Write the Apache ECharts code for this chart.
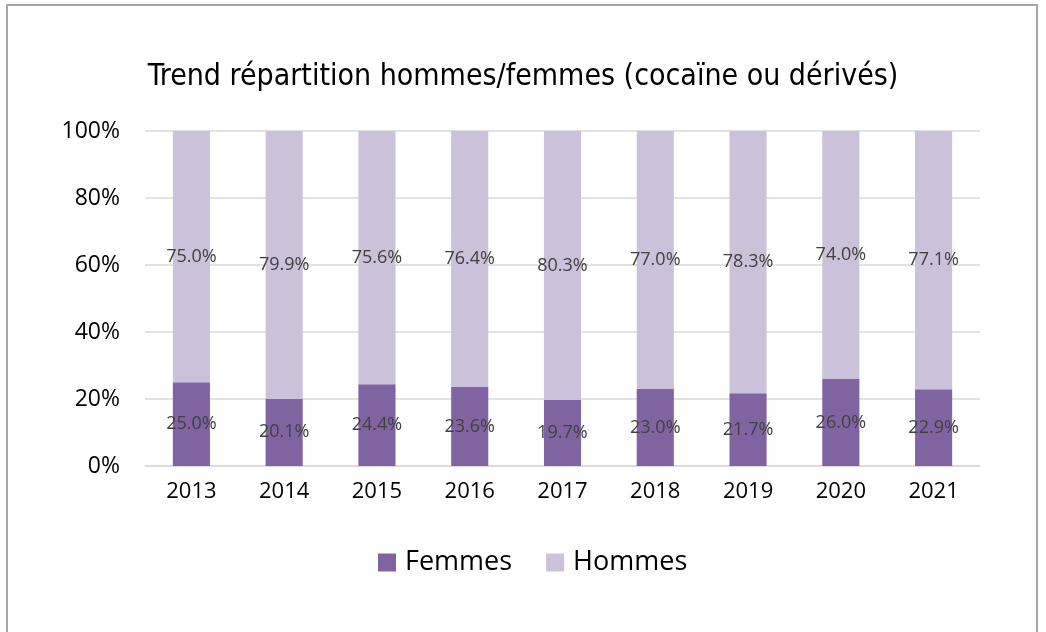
<!DOCTYPE html>
<html>
<head>
<meta charset="utf-8">
<script src="https://cdn.jsdelivr.net/npm/echarts@6/dist/echarts.min.js"></script>
<style>
  html, body { margin: 0; padding: 0; background: #fff; }
  #frame { position: absolute; left: 6px; top: 4px; width: 1032px; height: 640px; border: 2px solid #a6a6a6; box-sizing: border-box; }
  #chart { position: absolute; left: 0; top: 0; width: 1046px; height: 632px; }
</style>
</head>
<body>
<div id="frame"></div>
<div id="chart"></div>
<script>
const years = ['2013', '2014', '2015', '2016', '2017', '2018', '2019', '2020', '2021'];
const femmes = [25.0, 20.1, 24.4, 23.6, 19.7, 23.0, 21.7, 26.0, 22.9];
const hommes = [75.0, 79.9, 75.6, 76.4, 80.3, 77.0, 78.3, 74.0, 77.1];

const chart = echarts.init(document.getElementById('chart'), null, { renderer: 'canvas' });

const labelStyle = {
  show: true,
  position: 'inside',
  color: '#404040',
  fontSize: 18,
  fontFamily: 'Open Sans',
  formatter: p => p.value.toFixed(1) + '%'
};

chart.setOption({
  backgroundColor: 'transparent',
  animation: false,
  title: {
    text: 'Trend répartition hommes/femmes (cocaïne ou dérivés)',
    left: 'center',
    top: 57,
    textStyle: {
      fontFamily: '"Liberation Sans Narrow", "DejaVu Sans Condensed", sans-serif',
      fontWeight: 'normal',
      fontSize: 30,
      color: '#000'
    }
  },
  legend: {
    bottom: 51,
    left: 373,
    itemWidth: 18,
    itemHeight: 18,
    itemGap: 34,
    icon: 'rect',
    textStyle: { fontSize: 27, color: '#000', fontFamily: 'Open Sans', padding: [0, 0, 0, 4] },
    data: ['Femmes', 'Hommes']
  },
  grid: { left: 145, right: 66, top: 131, bottom: 166 },
  xAxis: {
    type: 'category',
    data: years,
    axisLine: { show: true, lineStyle: { color: '#d9d9d9', width: 1.5 } },
    axisTick: { show: false },
    axisLabel: { fontSize: 22, color: '#000', margin: 15, fontFamily: 'Open Sans' }
  },
  yAxis: {
    type: 'value',
    min: 0,
    max: 100,
    interval: 20,
    axisLine: { show: false },
    axisTick: { show: false },
    axisLabel: { fontSize: 23, color: '#000', margin: 25, fontFamily: 'Open Sans', formatter: '{value}%' },
    splitLine: { lineStyle: { color: '#d9d9d9', width: 1.5 } }
  },
  series: [
    {
      name: 'Femmes',
      type: 'bar',
      stack: 'total',
      data: femmes,
      barWidth: '40%',
      itemStyle: { color: '#8064a2' },
      label: labelStyle
    },
    {
      name: 'Hommes',
      type: 'bar',
      stack: 'total',
      data: hommes,
      barWidth: '40%',
      itemStyle: { color: '#ccc1da' },
      label: labelStyle
    }
  ]
});
</script>
</body>
</html>
